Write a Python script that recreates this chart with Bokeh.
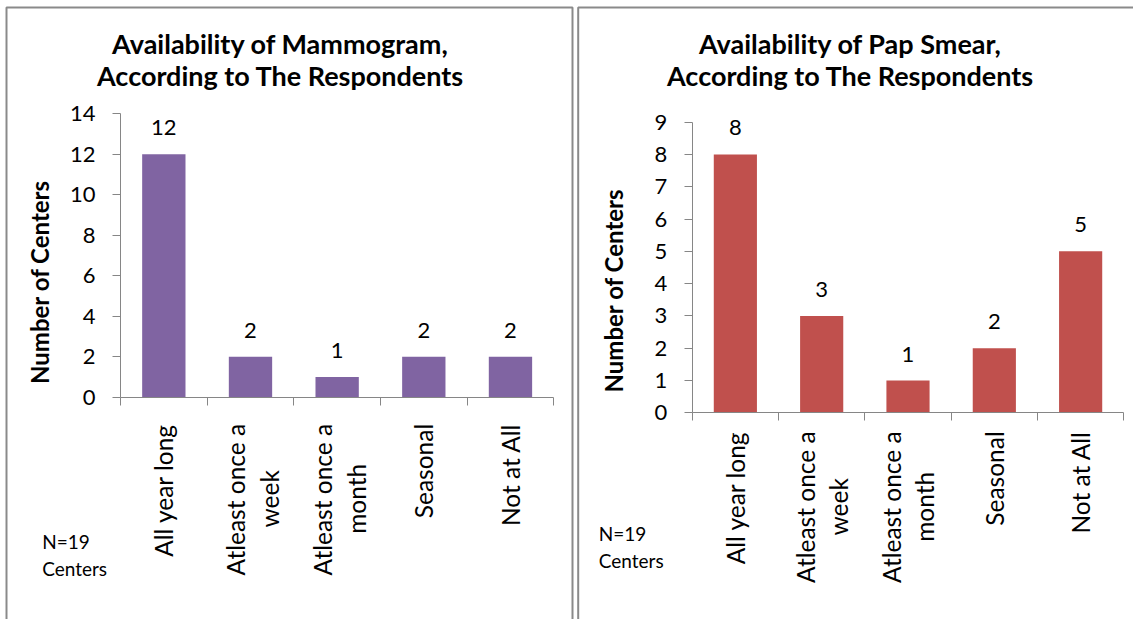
from math import pi
from bokeh.plotting import figure
from bokeh.layouts import row
from bokeh.core.properties import value
from bokeh.models import Range1d, FixedTicker, LabelSet, ColumnDataSource, BoxAnnotation
from bokeh.embed import file_html
from bokeh.resources import INLINE

# ---------------- data ----------------
categories = ["All year long", "Atleast once a week", "Atleast once a month", "Seasonal", "Not at All"]
category_lines = [["All year long"], ["Atleast once a", "week"], ["Atleast once a", "month"],
                  ["Seasonal"], ["Not at All"]]
mammogram_centers = [12, 2, 1, 2, 2]
pap_smear_centers = [8, 3, 1, 2, 5]
mammogram_yticks = [0, 2, 4, 6, 8, 10, 12, 14]
pap_smear_yticks = [0, 1, 2, 3, 4, 5, 6, 7, 8, 9]
mammogram_title = ["Availability of Mammogram,", "According to The Respondents"]
pap_smear_title = ["Availability of Pap Smear,", "According to The Respondents"]
y_axis_title = "Number of Centers"
note_lines = ["N=19", "Centers"]

FONT = "Lato"
AXIS_COLOR = "#868686"
BORDER_COLOR = "#8a8a8a"
H = 619
TICK_SIZE = "22px"
CAT_SIZE = "24.5px"


def add_text(p, xs, ys, texts, xo, yo, align, baseline, size, bold=False, angle=0.0):
    src = ColumnDataSource(dict(x=xs, y=ys, text=texts, xo=xo, yo=yo))
    p.add_layout(LabelSet(x="x", y="y", text="text", source=src, x_offset="xo", y_offset="yo",
                          angle=angle, text_align=align, text_baseline=baseline,
                          text_font=value(FONT), text_font_size=value(size),
                          text_font_style="bold" if bold else "normal",
                          text_color="black"))


def make_panel(values, color, yticks, title_lines, width, plot_box, border_box,
               lab_top, lab_two_center, line_offs, title_dx, title_dy,
               ytitle_dx, ytitle_dy, note_dx, note_dy):
    """plot_box = pixel position (canvas) of the axes: x of category 0 edge,
    x of last category edge, y of top tick, y of zero."""
    n = len(values)
    px0, px1, py_top, py0 = plot_box
    sx = (px1 - px0) / n
    sy = (py0 - py_top) / (yticks[-1] - yticks[0])
    x_rng = Range1d(-px0 / sx, (width - px0) / sx)
    y_rng = Range1d(-(H - py0) / sy, py0 / sy)

    p = figure(width=width, height=H, output_backend="svg", toolbar_location=None,
               x_range=x_rng, y_range=y_rng, title=None, frame_align=False,
               min_border=0, min_border_left=0, min_border_right=0,
               min_border_top=0, min_border_bottom=0)
    p.background_fill_color = "white"
    p.border_fill_color = "white"
    p.outline_line_color = None
    p.xgrid.visible = False
    p.ygrid.visible = False

    xs = [i + 0.5 for i in range(n)]
    src = ColumnDataSource(dict(x=xs, top=values, label=[str(v) for v in values]))
    p.vbar(x="x", top="top", width=0.5, bottom=0, source=src, fill_color=color, line_color=None)

    # axes, pinned to the data origin
    ya = p.yaxis[0]
    ya.fixed_location = 0
    ya.bounds = (yticks[0], yticks[-1])
    ya.ticker = FixedTicker(ticks=yticks)
    ya.axis_line_color = AXIS_COLOR
    ya.major_tick_line_color = AXIS_COLOR
    ya.major_tick_out = 8
    ya.major_tick_in = 0
    ya.minor_tick_line_color = None
    ya.major_label_text_font = FONT
    ya.major_label_text_font_size = TICK_SIZE
    ya.major_label_text_color = "black"
    ya.major_label_standoff = 17

    xa = p.xaxis[0]
    xa.fixed_location = 0
    xa.bounds = (0, n)
    xa.ticker = FixedTicker(ticks=list(range(n + 1)))
    xa.axis_line_color = AXIS_COLOR
    xa.major_tick_line_color = AXIS_COLOR
    xa.major_tick_out = 8
    xa.major_tick_in = 0
    xa.minor_tick_line_color = None
    xa.major_label_overrides = {i: "" for i in range(n + 1)}
    xa.major_label_text_font_size = "1px"

    # data labels
    p.add_layout(LabelSet(x="x", y="top", text="label", source=src, y_offset=19,
                          text_align="center", text_baseline="alphabetic",
                          text_font=value(FONT), text_font_size=value(TICK_SIZE),
                          text_color="black"))

    # category labels (rotated)
    one = [(xs[i], lines[0]) for i, lines in enumerate(category_lines) if len(lines) == 1]
    two = [(xs[i], lines) for i, lines in enumerate(category_lines) if len(lines) == 2]
    add_text(p, [a for a, _ in one], [0] * len(one), [t for _, t in one],
             [0] * len(one), [-lab_top] * len(one), "right", "middle", CAT_SIZE, angle=pi / 2)
    add_text(p, [a for a, _ in two], [0] * len(two), [t[0] for _, t in two],
             [line_offs[0]] * len(two), [-lab_top] * len(two), "right", "middle", CAT_SIZE,
             angle=pi / 2)
    add_text(p, [a for a, _ in two], [0] * len(two), [t[1] for _, t in two],
             [line_offs[1]] * len(two), [-lab_two_center] * len(two), "center", "middle",
             CAT_SIZE, angle=pi / 2)

    # title
    ymax = yticks[-1]
    add_text(p, [0, 0], [ymax, ymax], title_lines, [title_dx, title_dx], list(title_dy),
             "center", "alphabetic", "27px", bold=True)

    # y axis title
    add_text(p, [0], [0], [y_axis_title], [ytitle_dx], [ytitle_dy], "center", "middle",
             "24px", bold=True, angle=pi / 2)

    # note
    add_text(p, [0, 0], [0, 0], note_lines, [note_dx, note_dx], list(note_dy),
             "left", "alphabetic", "19px")

    # panel border (canvas pixels -> data)
    l, r, t, b = border_box
    p.add_layout(BoxAnnotation(left=(l - px0) / sx, right=(r - px0) / sx,
                               top=(py0 - t) / sy, bottom=(py0 - b) / sy,
                               fill_color=None, fill_alpha=0,
                               line_color=BORDER_COLOR, line_alpha=1.0, line_width=2))
    return p


p1 = make_panel(mammogram_centers, "#8064A2", mammogram_yticks, mammogram_title, 574,
                (120, 553.3, 113.3, 396.7), (6, 572, 7, 900),
                26.6, 101.6, (-15, 19), 160, (60, 28.3), -81, 115.2, -78.3, (-151.3, -178.3))
p2 = make_panel(pap_smear_centers, "#C0504D", pap_smear_yticks, pap_smear_title, 559,
                (117.7, 549.3, 121.7, 412.3), (3.7, 900, 7, 900),
                18.5, 94.0, (-16, 17), 158.3, (68.4, 36.7), -78.5, 122.3, -93.4, (-127.7, -154.7))

layout = row(p1, p2)
open("out.html", "w").write(file_html(layout, INLINE))
